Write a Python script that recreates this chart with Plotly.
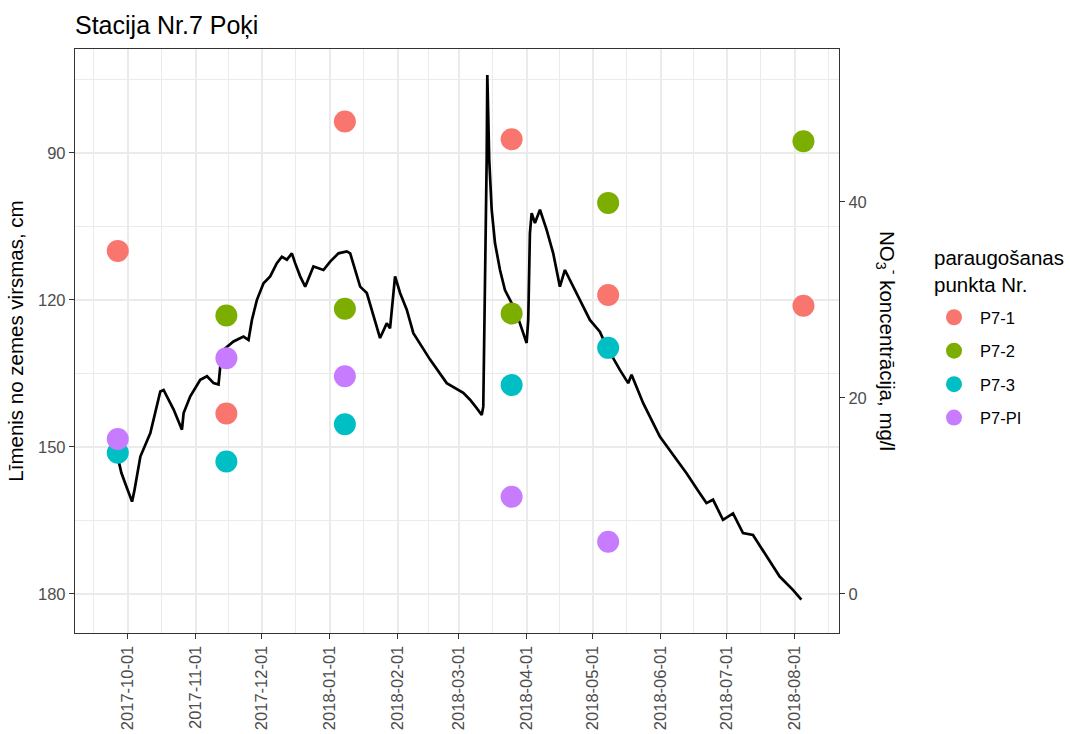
import plotly.graph_objects as go

# ---------------- data ----------------
title_text = "Stacija Nr.7 Poķi"
left_title = "Līmenis no zemes virsmas, cm"
right_title = "NO<sub>3</sub><sup>-</sup> koncentrācija, mg/l"
legend_title = "paraugošanas<br>punkta Nr."

level_time = [
    "2017-09-26 04:00", "2017-09-28 03:00", "2017-09-30 10:00", "2017-10-03 00:00",
    "2017-10-04 01:00", "2017-10-05 07:00", "2017-10-06 19:00", "2017-10-11 08:00",
    "2017-10-13 15:00", "2017-10-15 21:00", "2017-10-17 09:00", "2017-10-18 23:00",
    "2017-10-21 23:00", "2017-10-25 18:00", "2017-10-26 12:00", "2017-10-29 13:00",
    "2017-11-03 02:00", "2017-11-06 04:00", "2017-11-09 04:00", "2017-11-11 10:00",
    "2017-11-12 05:00", "2017-11-13 17:00", "2017-11-18 06:00", "2017-11-22 19:00",
    "2017-11-25 02:00", "2017-11-26 15:00", "2017-11-28 22:00", "2017-12-01 22:00",
    "2017-12-04 23:00", "2017-12-08 00:00", "2017-12-10 07:00", "2017-12-12 14:00",
    "2017-12-14 20:00", "2017-12-16 08:00", "2017-12-18 15:00", "2017-12-20 22:00",
    "2017-12-24 16:00", "2017-12-29 06:00", "2018-01-01 07:00", "2018-01-05 02:00",
    "2018-01-08 21:00", "2018-01-10 10:00", "2018-01-14 23:00", "2018-01-18 00:00",
    "2018-01-24 01:00", "2018-01-27 02:00", "2018-01-28 14:00", "2018-01-30 21:00",
    "2018-02-02 04:00", "2018-02-05 05:00", "2018-02-08 05:00", "2018-02-15 20:00",
    "2018-02-23 10:00", "2018-03-02 23:00", "2018-03-06 01:00", "2018-03-09 02:00",
    "2018-03-11 09:00", "2018-03-12 02:00", "2018-03-12 21:00", "2018-03-13 15:00",
    "2018-03-13 22:00", "2018-03-14 19:00", "2018-03-15 22:00", "2018-03-17 10:00",
    "2018-03-19 17:00", "2018-03-21 23:00", "2018-03-24 06:00", "2018-03-26 12:00",
    "2018-03-28 19:00", "2018-03-31 20:00", "2018-04-01 14:00", "2018-04-02 08:00",
    "2018-04-03 03:00", "2018-04-04 15:00", "2018-04-06 22:00", "2018-04-09 23:00",
    "2018-04-12 23:00", "2018-04-16 00:00", "2018-04-18 07:00", "2018-04-20 13:00",
    "2018-04-25 03:00", "2018-04-29 16:00", "2018-05-04 05:00", "2018-05-07 06:00",
    "2018-05-13 08:00", "2018-05-17 03:00", "2018-05-18 16:00", "2018-05-23 23:00",
    "2018-05-31 13:00", "2018-06-08 03:00", "2018-06-12 17:00", "2018-06-18 18:00",
    "2018-06-21 19:00", "2018-06-24 19:00", "2018-06-29 08:00", "2018-07-03 22:00",
    "2018-07-08 11:00", "2018-07-13 00:00", "2018-07-19 03:00", "2018-07-25 04:00",
    "2018-07-31 05:00", "2018-08-04 01:00",
]
level_cm = [
    151.5, 155.3, 158.1, 161.2,
    159.0, 155.4, 152.0, 147.2,
    143.1, 138.7, 138.4, 139.7,
    142.4, 146.5, 143.1, 139.7,
    136.3, 135.6, 137.0, 137.3,
    133.6, 130.2, 128.5, 127.5,
    128.2, 124.1, 120.0, 116.6,
    115.2, 112.5, 111.2, 111.8,
    110.5, 112.5, 115.2, 117.3,
    113.2, 113.9, 112.2, 110.5,
    110.1, 110.5, 117.3, 118.6,
    127.8, 124.8, 125.8, 115.2,
    118.6, 122.0, 126.8, 132.2,
    137.0, 139.0, 140.4, 142.1,
    143.5, 141.8, 118.6, 91.4,
    74.1, 91.4, 101.6, 108.4,
    113.9, 118.0, 120.0, 122.0,
    124.8, 128.8, 124.0, 106.4,
    102.3, 104.3, 101.6, 105.7,
    110.5, 117.3, 113.9, 115.9,
    120.0, 124.1, 126.5, 129.5,
    134.3, 137.0, 135.3, 141.1,
    147.9, 152.7, 155.4, 159.5,
    161.5, 160.8, 164.9, 163.6,
    167.6, 168.0, 172.4, 176.5,
    179.2, 181.2,
]

p71_dates = ["2017-09-26 12:00", "2017-11-15", "2018-01-08", "2018-03-25", "2018-05-08", "2018-08-05"]
p71_no3 = [35.0, 18.4, 48.2, 46.4, 30.5, 29.4]
p72_dates = ["2017-11-15", "2018-01-08", "2018-03-25", "2018-05-08", "2018-08-05"]
p72_no3 = [28.4, 29.1, 28.6, 39.9, 46.2]
p73_dates = ["2017-09-26 12:00", "2017-11-15", "2018-01-08", "2018-03-25", "2018-05-08"]
p73_no3 = [14.4, 13.5, 17.3, 21.3, 25.1]
p7pi_dates = ["2017-09-26 12:00", "2017-11-15", "2018-01-08", "2018-03-25", "2018-05-08"]
p7pi_no3 = [15.8, 24.05, 22.2, 9.9, 5.3]

series_names = ["P7-1", "P7-2", "P7-3", "P7-PI"]
series_colors = ["#F8766D", "#7CAE00", "#00BFC4", "#C77CFF"]

x_major = ["2017-10-01", "2017-11-01", "2017-12-01", "2018-01-01", "2018-02-01", "2018-03-01",
           "2018-04-01", "2018-05-01", "2018-06-01", "2018-07-01", "2018-08-01"]
x_minor = ["2017-09-15 12:00", "2017-10-16 12:00", "2017-11-16", "2017-12-16 12:00",
           "2018-01-16 12:00", "2018-02-15", "2018-03-16 12:00", "2018-04-16",
           "2018-05-16 12:00", "2018-06-16", "2018-07-16 12:00", "2018-08-16 12:00"]
y_major = [90, 120, 150, 180]
y_minor = [75, 105, 135, 165]
y2_major = [0, 20, 40]

# ---------------- figure ----------------
FONT = "Liberation Sans, Arial, sans-serif"
fig = go.Figure()

fig.add_trace(go.Scatter(x=level_time, y=level_cm, mode="lines",
                         line=dict(color="black", width=2.7),
                         showlegend=False, hoverinfo="skip", yaxis="y"))

all_dates = [p71_dates, p72_dates, p73_dates, p7pi_dates]
all_vals = [p71_no3, p72_no3, p73_no3, p7pi_no3]
for name, col, xs, ys in zip(series_names, series_colors, all_dates, all_vals):
    fig.add_trace(go.Scatter(x=xs, y=ys, mode="markers", name=name, legendgroup=name,
                             marker=dict(color=col, size=22, line=dict(width=0)),
                             yaxis="y2"))

grid_major = "#EBEBEB"
border = "#333333"
tick_font = dict(family=FONT, size=16.5, color="#4D4D4D")

PL, PR, PT, PB = 75, 839, 49, 633
pw, ph = PR - PL, PB - PT

fig.update_layout(
    width=1070, height=734,
    margin=dict(l=PL, r=1070 - PR, t=PT, b=734 - PB, autoexpand=False),
    paper_bgcolor="white", plot_bgcolor="white",
    font=dict(family=FONT, color="black"),
    title=dict(text=title_text, x=75 / 1070, xanchor="left", xref="container",
               y=1 - 25 / 734, yanchor="middle", yref="container",
               font=dict(family=FONT, size=25, color="black")),
    xaxis=dict(
        type="date", automargin=False,
        range=["2017-09-07 00:00", "2018-08-21 05:00"],
        tickmode="array", tickvals=x_major, ticktext=x_major,
        tickangle=-90, tickfont=tick_font,
        ticks="outside", ticklen=5, tickwidth=1.3, tickcolor=border,
        showgrid=True, gridcolor=grid_major, gridwidth=1.8,
        minor=dict(tickmode="array", tickvals=x_minor, showgrid=True,
                   gridcolor=grid_major, gridwidth=0.9, ticks=""),
        showline=True, linecolor=border, linewidth=1.3, mirror=True,
        zeroline=False,
    ),
    yaxis=dict(
        automargin=False,
        range=[188.02, 68.78],
        tickmode="array", tickvals=y_major,
        tickfont=tick_font,
        ticks="outside", ticklen=5, tickwidth=1.3, tickcolor=border,
        showgrid=True, gridcolor=grid_major, gridwidth=1.8,
        minor=dict(tickmode="array", tickvals=y_minor, showgrid=True,
                   gridcolor=grid_major, gridwidth=0.9, ticks=""),
        showline=True, linecolor=border, linewidth=1.3, mirror=True,
        zeroline=False,
        title=dict(text=left_title, font=dict(family=FONT, size=20.5, color="black"),
                   standoff=8),
    ),
    yaxis2=dict(
        automargin=False,
        overlaying="y", side="right",
        range=[-4.01, 55.61],
        tickmode="array", tickvals=y2_major,
        tickfont=tick_font,
        ticks="outside", ticklen=5, tickwidth=1.3, tickcolor=border,
        showgrid=False, zeroline=False,
        showline=True, linecolor=border, linewidth=1.3,
    ),
    legend=dict(
        font=dict(family=FONT, size=16.5, color="black"),
        x=(928 - PL) / pw, xanchor="left",
        y=(PB - 367.5) / ph, yanchor="middle",
        tracegroupgap=9, itemsizing="trace", itemwidth=42,
        bgcolor="rgba(0,0,0,0)",
    ),
    annotations=[
        dict(text=right_title, textangle=90, xref="paper", yref="paper",
             x=(888 - PL) / pw, y=0.5, xanchor="center", yanchor="middle",
             showarrow=False, font=dict(family=FONT, size=20.5, color="black")),
        dict(text=legend_title, xref="paper", yref="paper", align="left",
             x=(932 - PL) / pw, y=(PB - 270.5) / ph, xanchor="left", yanchor="middle",
             showarrow=False, font=dict(family=FONT, size=20.5, color="black")),
    ],
)

fig.write_html("out.html")
